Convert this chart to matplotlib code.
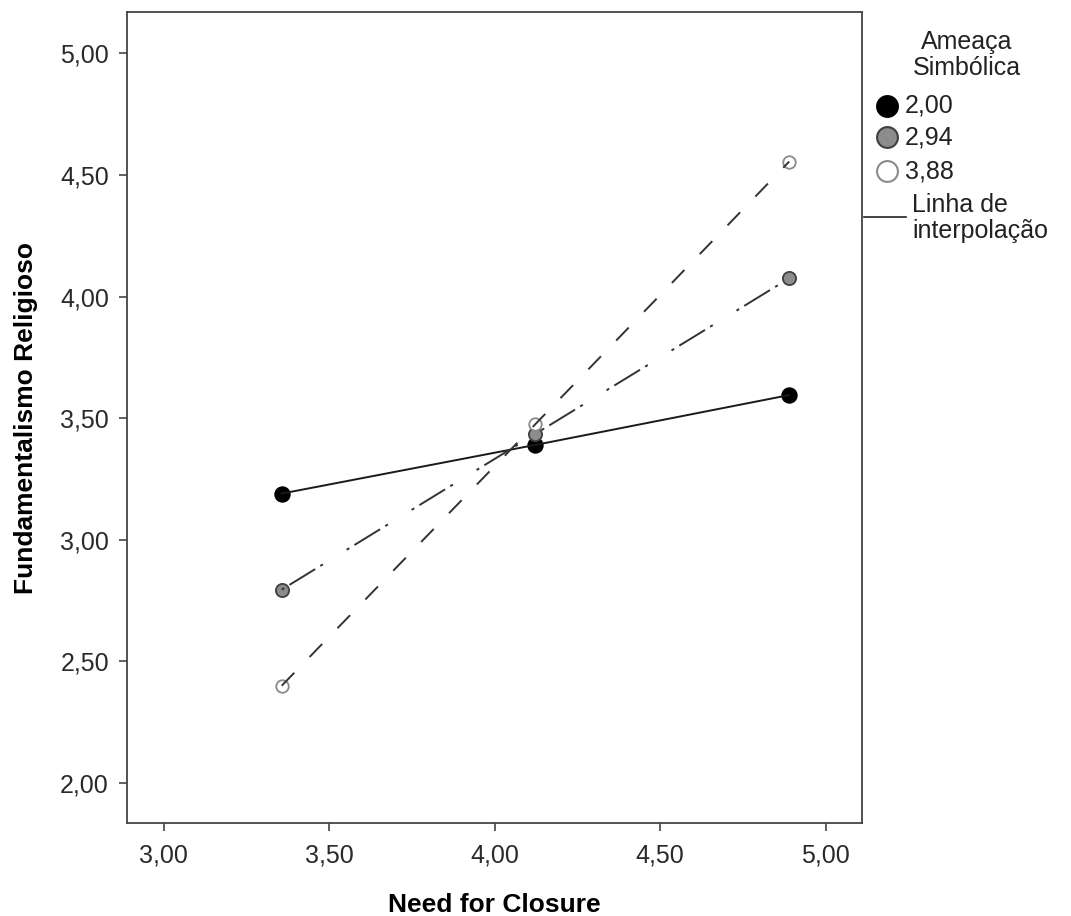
import matplotlib
matplotlib.use("Agg")
import matplotlib.pyplot as plt
from matplotlib.lines import Line2D

plt.rcParams['font.family'] = ['Liberation Sans', 'DejaVu Sans']

# Data
need_for_closure = [3.357, 4.123, 4.890]
series_labels = ["2,00", "2,94", "3,88"]
fund_2_00 = [3.19, 3.39, 3.595]
fund_2_94 = [2.795, 3.435, 4.075]
fund_3_88 = [2.40, 3.475, 4.555]
xticks = [3.0, 3.5, 4.0, 4.5, 5.0]
yticks = [2.0, 2.5, 3.0, 3.5, 4.0, 4.5, 5.0]

W, H = 1071, 916
fig = plt.figure(figsize=(W / 100, H / 100), dpi=100)
ax = fig.add_axes([127 / W, 1 - 823 / H, (862 - 127) / W, (823 - 12) / H])

ax.set_xlim(2.8897, 5.110)
ax.set_ylim(1.8356, 5.170)

LW = 1.4
styles = [
    dict(ls='-', color='#1a1a1a', mfc='black', mec='black', ms=10.5),
    dict(ls=(0, (1.6, 3.1, 15.5, 3.1, 1.6, 14.3)), color='#333333', mfc='#8c8c8c', mec='#404040', ms=9.5),
    dict(ls=(0, (9.3, 11.3)), color='#333333', mfc='white', mec='#8a8a8a', ms=9.0),
]
for ys, st in zip([fund_2_00, fund_2_94, fund_3_88], styles):
    ax.plot(need_for_closure, ys, linestyle=st['ls'], color=st['color'], lw=LW, zorder=3)
    ax.plot(need_for_closure, ys, linestyle='none', marker='o', mfc=st['mfc'],
            mec=st['mec'], ms=st['ms'], mew=1.3, zorder=2)

ax.set_xticks(xticks)
ax.set_yticks(yticks)
ax.set_xticklabels([f"{v:.2f}".replace('.', ',') for v in xticks])
ax.set_yticklabels([f"{v:.2f}".replace('.', ',') for v in yticks])
ax.tick_params(labelsize=18, length=6, width=1.2, color='#444444', labelcolor='#2a2a2a')
ax.tick_params(axis='x', pad=9)
ax.tick_params(axis='y', pad=7)
for s in ax.spines.values():
    s.set_color('#444444')
    s.set_linewidth(1.3)

ax.set_xlabel("Need for Closure", fontsize=19, fontweight='bold', labelpad=18)
ax.set_ylabel("Fundamentalismo Religioso", fontsize=19, fontweight='bold', labelpad=16)

# Legend (manual, outside right)
def fx(px):
    return px / W

def fy(py):
    return 1 - py / H

fig.text(fx(967), fy(55), "Ameaça\nSimbólica", ha='center', va='center', fontsize=18,
         linespacing=1.12, color='#222222')
leg_y = [106, 137, 171]
for y, lab, st in zip(leg_y, series_labels, styles):
    fig.add_artist(Line2D([fx(887)], [fy(y)], marker='o', linestyle='none',
                          mfc=st['mfc'], mec=st['mec'], ms=15, mew=1.5,
                          transform=fig.transFigure))
    fig.text(fx(905), fy(y), lab, ha='left', va='center', fontsize=18, color='#222222')
fig.add_artist(Line2D([fx(864), fx(906)], [fy(217), fy(217)], color='#222222', lw=1.2,
                      transform=fig.transFigure))
fig.text(fx(912), fy(218), "Linha de\ninterpolação", ha='left', va='center', fontsize=18,
         linespacing=1.12, color='#222222')

fig.savefig("out.png", dpi=100)
